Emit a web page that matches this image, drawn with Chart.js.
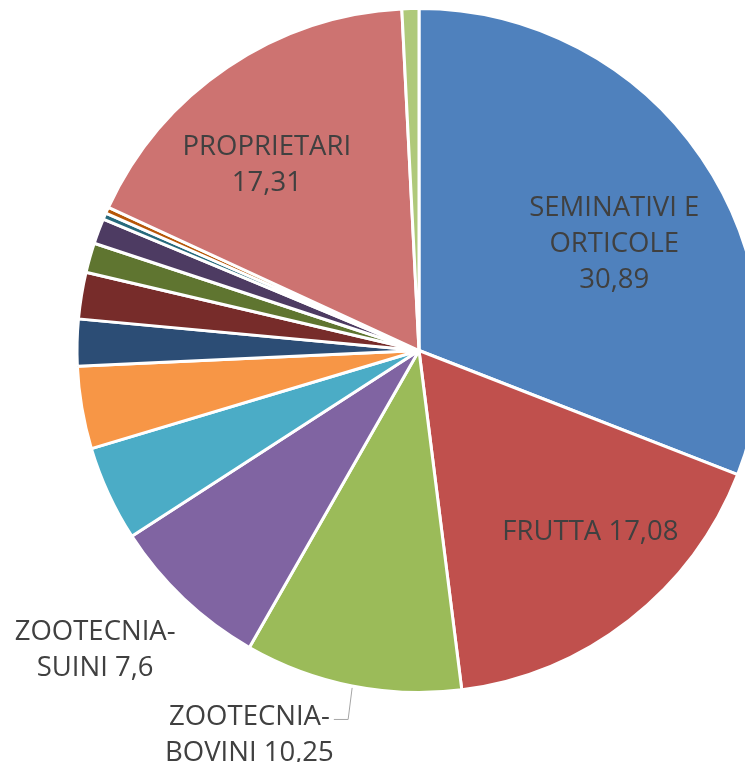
<!DOCTYPE html>
<html>
<head>
<meta charset="utf-8">
<script src="https://cdn.jsdelivr.net/npm/chart.js@4.4.1/dist/chart.umd.min.js"></script>
<style>
  html, body { margin: 0; padding: 0; background: #ffffff; overflow: hidden; }
  #wrap { position: absolute; left: 0; top: 0; width: 838px; height: 762px; }
</style>
</head>
<body>
<div id="wrap"><canvas id="pieChart" width="838" height="762"></canvas></div>
<script>
// Categorie (solo alcune hanno etichetta visibile nel grafico)
const categories = [
    'SEMINATIVI E ORTICOLE', 'FRUTTA', 'ZOOTECNIA-BOVINI', 'ZOOTECNIA-SUINI',
    'Altro 1', 'Altro 2', 'Altro 3', 'Altro 4', 'Altro 5', 'Altro 6',
    'Altro 7', 'Altro 8', 'PROPRIETARI', 'Altro 9'
];
const values = [30.89, 17.08, 10.25, 7.6, 4.5, 3.9, 2.2, 2.2, 1.4, 1.2, 0.3, 0.3, 17.31, 0.8];
const colors = [
    '#4f81bd', '#c0504d', '#9bbb59', '#8064a2', '#4bacc6', '#f79646',
    '#2c4d75', '#772c2a', '#5f7530', '#4d3b62', '#276a7c', '#b65708',
    '#cd7371', '#afc97a'
];

// Etichette dei dati: testo, distanza dal centro (frazione del raggio), spostamento angolare (gradi)
const dataLabels = {
    0: { lines: ['SEMINATIVI E', 'ORTICOLE', '30,89'], r: 0.65, da: 5.8 },
    1: { lines: ['FRUTTA 17,08'], r: 0.73, da: -5.4 },
    2: { lines: ['ZOOTECNIA-', 'BOVINI 10,25'], r: 1.23, da: 12.5, leader: true },
    3: { lines: ['ZOOTECNIA-', 'SUINI 7,6'], r: 1.29, da: 3.8 },
    12: { lines: ['PROPRIETARI', '17,31'], r: 0.70, da: -5.4 }
};

const labelPlugin = {
    id: 'sliceLabels',
    afterDraw(chart) {
        const ctx = chart.ctx;
        const meta = chart.getDatasetMeta(0);
        const lineH = 36;
        ctx.save();
        ctx.font = '27.5px "Open Sans", sans-serif';
        ctx.fillStyle = '#404040';
        ctx.textAlign = 'center';
        ctx.textBaseline = 'middle';
        Object.keys(dataLabels).forEach(function(k) {
            const lab = dataLabels[k];
            const arc = meta.data[k];
            const mid = (arc.startAngle + arc.endAngle) / 2;
            const a = mid + lab.da * Math.PI / 180;
            const cx = arc.x + Math.cos(a) * arc.outerRadius * lab.r;
            const cy = arc.y + Math.sin(a) * arc.outerRadius * lab.r;
            const top = cy - (lab.lines.length - 1) * lineH / 2;
            lab.lines.forEach(function(t, i) {
                ctx.fillText(t, cx, top + i * lineH);
            });
            if (lab.leader) {
                const ex = arc.x + Math.cos(mid) * arc.outerRadius;
                const ey = arc.y + Math.sin(mid) * arc.outerRadius;
                const w = ctx.measureText(lab.lines[0]).width;
                const lx = cx + w / 2 + 4;
                ctx.strokeStyle = '#a6a6a6';
                ctx.lineWidth = 1;
                ctx.beginPath();
                ctx.moveTo(ex, ey + 2);
                ctx.lineTo(ex - 4, top + 2);
                ctx.lineTo(lx, top + 2);
                ctx.stroke();
            }
        });
        ctx.restore();
    }
};

new Chart(document.getElementById('pieChart'), {
    type: 'pie',
    data: {
        labels: categories,
        datasets: [{
            data: values,
            backgroundColor: colors,
            borderColor: '#ffffff',
            borderWidth: 3,
            hoverOffset: 0
        }]
    },
    options: {
        responsive: false,
        animation: false,
        devicePixelRatio: 1,
        layout: { padding: { top: 7, bottom: 68, left: 0, right: 0 } },
        plugins: {
            legend: { display: false },
            tooltip: { enabled: false }
        }
    },
    plugins: [labelPlugin]
});
</script>
</body>
</html>
